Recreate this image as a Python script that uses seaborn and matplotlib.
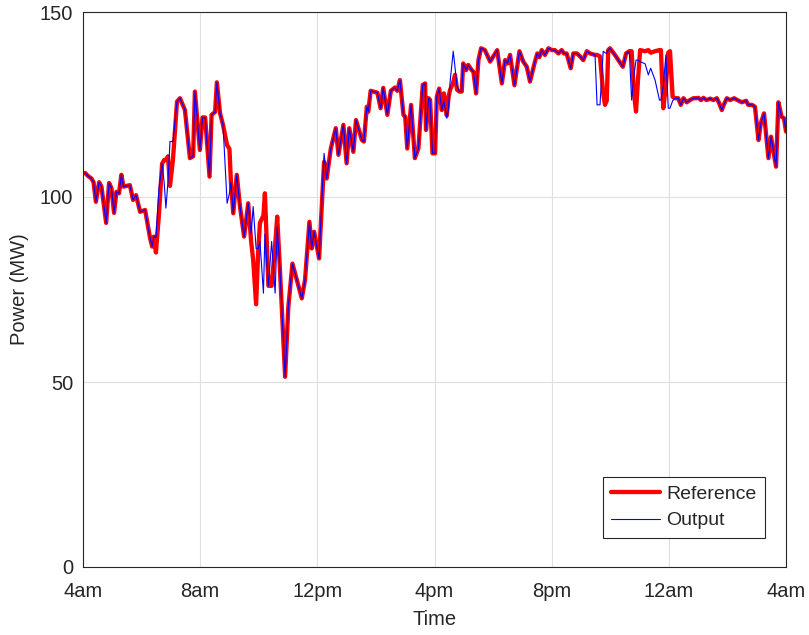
import numpy as np
import pandas as pd
import matplotlib
matplotlib.use("Agg")
import matplotlib.pyplot as plt
import seaborn as sns

# Hours since 4am
hours = [
    0.07, 0.17, 0.29, 0.36, 0.44, 0.55, 0.63, 0.79, 0.89, 0.97, 1.06, 1.14, 1.23, 1.31, 1.38,
    1.60, 1.71, 1.81, 1.95, 2.12, 2.29, 2.36, 2.42, 2.49, 2.59, 2.70, 2.77, 2.83, 2.90, 2.97,
    3.07, 3.21, 3.31, 3.48, 3.65, 3.76, 3.82, 3.99, 4.08, 4.17, 4.32, 4.39, 4.51, 4.57, 4.68,
    4.78, 4.92, 5.00, 5.05, 5.13, 5.25, 5.36, 5.50, 5.64, 5.74, 5.81, 5.91, 5.98, 6.04, 6.16,
    6.21, 6.33, 6.44, 6.56, 6.63, 6.73, 6.90, 7.01, 7.15, 7.30, 7.47, 7.58, 7.73, 7.81, 7.89,
    8.06, 8.23, 8.32, 8.46, 8.53, 8.63, 8.72, 8.89, 9.00, 9.09, 9.23, 9.32, 9.52, 9.59, 9.69,
    9.74, 9.82, 10.05, 10.16, 10.25, 10.39, 10.51, 10.65, 10.73, 10.82, 10.94, 11.00, 11.07, 11.20, 11.33,
    11.45, 11.60, 11.68, 11.71, 11.80, 11.85, 11.93, 12.02, 12.08, 12.16, 12.25, 12.32, 12.42, 12.48, 12.53,
    12.64, 12.70, 12.77, 12.85, 12.93, 12.98, 13.08, 13.15, 13.27, 13.33, 13.42, 13.50, 13.59, 13.72, 13.90,
    14.14, 14.30, 14.41, 14.49, 14.58, 14.73, 14.90, 15.03, 15.15, 15.26, 15.43, 15.51, 15.58, 15.66, 15.77,
    15.89, 16.01, 16.11, 16.23, 16.34, 16.42, 16.51, 16.65, 16.74, 16.86, 16.97, 17.08, 17.20, 17.31, 17.48,
    17.55, 17.65, 17.76, 17.82, 17.88, 17.93, 17.99, 18.16, 18.28, 18.43, 18.54, 18.65, 18.73, 18.81, 18.88,
    18.95, 19.02, 19.19, 19.30, 19.38, 19.53, 19.68, 19.73, 19.81, 19.90, 19.98, 20.04, 20.13, 20.21, 20.32,
    20.41, 20.50, 20.61, 20.72, 20.84, 20.93, 21.01, 21.10, 21.18, 21.29, 21.41, 21.52, 21.64, 21.71, 21.81,
    21.88, 21.98, 22.09, 22.23, 22.34, 22.49, 22.64, 22.71, 22.84, 22.94, 23.06, 23.14, 23.25, 23.40, 23.49,
    23.66, 23.74, 23.85, 23.93, 24.00,
]

reference = [
    106.5, 105.7, 105.0, 104.0, 98.7, 104.0, 102.8, 93.0, 103.8, 102.4, 95.7, 101.4, 101.0, 106.0, 102.8,
    103.2, 99.2, 100.5, 96.0, 96.5, 88.9, 86.6, 89.3, 85.0, 95.0, 109.0, 110.0, 110.0, 111.0, 103.0,
    110.0, 125.8, 126.7, 123.5, 110.5, 111.0, 128.5, 112.7, 121.5, 121.5, 105.5, 122.2, 123.0, 131.0, 122.6,
    119.5, 114.0, 113.0, 104.0, 95.6, 106.0, 97.4, 89.3, 98.3, 88.0, 83.0, 71.0, 85.0, 93.0, 95.0,
    101.0, 76.0, 76.0, 87.0, 94.7, 79.4, 51.4, 70.3, 82.0, 77.6, 72.6, 77.6, 93.3, 86.1, 90.6,
    83.4, 109.5, 105.0, 113.1, 115.4, 118.6, 111.4, 119.5, 109.1, 118.6, 112.2, 120.8, 115.4, 115.0, 124.4,
    123.1, 128.7, 128.2, 124.0, 129.5, 122.2, 128.7, 129.6, 128.7, 131.6, 122.2, 121.7, 113.1, 124.9, 110.5,
    113.1, 130.3, 130.7, 118.1, 126.7, 126.2, 111.8, 111.8, 127.1, 129.3, 123.5, 128.0, 122.0, 127.0, 128.9,
    131.0, 133.0, 129.0, 128.5, 128.5, 136.1, 134.3, 135.7, 134.3, 133.8, 128.0, 137.0, 140.2, 139.7, 136.6,
    139.7, 130.7, 137.0, 136.1, 138.4, 130.2, 139.4, 136.6, 135.2, 131.2, 136.6, 138.8, 137.8, 139.7, 138.4,
    140.2, 139.7, 139.7, 138.8, 139.7, 138.8, 138.8, 134.8, 138.8, 138.8, 138.0, 137.0, 139.4, 138.8, 138.4,
    138.4, 138.0, 128.0, 124.9, 126.0, 139.7, 140.2, 138.4, 137.0, 135.2, 138.8, 139.4, 139.4, 128.0, 123.1,
    132.0, 139.7, 139.4, 139.7, 139.0, 139.4, 139.7, 139.7, 124.0, 130.0, 139.0, 139.4, 127.1, 126.7, 126.7,
    124.9, 126.7, 125.6, 126.2, 126.7, 126.7, 126.8, 126.2, 126.8, 126.2, 126.6, 126.2, 126.7, 125.5, 123.5,
    125.0, 126.7, 126.2, 126.7, 126.2, 125.6, 126.0, 124.9, 124.9, 124.4, 115.4, 119.9, 122.6, 110.5, 116.3,
    108.2, 125.6, 121.7, 121.3, 117.7,
]

output = [
    106.5, 105.7, 105.0, 104.0, 98.7, 104.0, 102.8, 93.0, 103.8, 102.4, 95.7, 101.4, 101.0, 106.0, 102.8,
    103.2, 99.2, 100.5, 96.0, 96.5, 88.9, 86.6, 89.3, 89.0, 102.0, 109.0, 104.0, 97.0, 104.0, 115.0,
    115.0, 125.8, 126.7, 123.5, 110.5, 111.0, 128.5, 112.7, 121.5, 121.5, 105.5, 122.2, 123.0, 131.0, 122.6,
    119.5, 98.3, 101.0, 104.0, 95.6, 106.0, 97.4, 89.3, 98.3, 90.0, 97.4, 86.0, 86.0, 88.0, 74.0,
    90.0, 76.0, 88.0, 74.0, 92.0, 79.4, 51.4, 70.3, 82.0, 77.6, 72.6, 77.6, 93.3, 86.1, 90.6,
    83.4, 111.8, 105.0, 113.1, 115.4, 118.6, 111.4, 119.5, 109.1, 118.6, 112.2, 120.8, 115.4, 115.0, 124.4,
    123.1, 128.7, 128.2, 124.0, 129.5, 122.2, 128.7, 129.6, 128.7, 131.6, 122.2, 121.7, 113.1, 124.9, 110.5,
    113.1, 130.3, 130.7, 118.1, 126.7, 126.2, 111.8, 111.8, 127.1, 129.3, 123.5, 126.0, 121.3, 124.0, 131.0,
    139.4, 135.0, 130.0, 128.5, 128.5, 136.1, 134.3, 135.7, 134.3, 133.8, 128.0, 137.0, 140.2, 139.7, 136.6,
    139.7, 130.7, 137.0, 136.1, 138.4, 130.2, 139.4, 136.6, 135.2, 131.2, 136.6, 138.8, 137.8, 139.7, 138.4,
    140.2, 139.7, 139.7, 138.8, 139.7, 138.8, 138.8, 134.8, 138.8, 138.8, 138.0, 137.0, 139.4, 138.8, 138.4,
    124.9, 124.9, 139.4, 139.0, 138.8, 139.7, 140.2, 138.4, 137.0, 135.2, 138.8, 139.4, 126.2, 133.0, 137.0,
    137.0, 136.6, 136.0, 133.0, 134.8, 131.6, 126.2, 126.2, 130.0, 138.4, 124.0, 124.0, 126.0, 126.7, 126.7,
    124.9, 126.7, 125.6, 126.2, 126.7, 126.7, 126.8, 126.2, 126.8, 126.2, 126.6, 126.2, 126.7, 125.5, 123.5,
    125.0, 126.7, 126.2, 126.7, 126.2, 125.6, 126.0, 124.9, 124.9, 124.4, 115.4, 119.9, 122.6, 110.5, 116.3,
    108.2, 125.6, 121.7, 121.3, 117.7,
]

x_ticks = [0, 4, 8, 12, 16, 20, 24]
x_tick_labels = ["4am", "8am", "12pm", "4pm", "8pm", "12am", "4am"]
y_ticks = [0, 50, 100, 150]

df = pd.DataFrame({"Time": hours, "Reference": reference, "Output": output})

sns.set_theme(style="whitegrid")
plt.rcParams["font.family"] = ["Liberation Sans", "DejaVu Sans"]

fig = plt.figure(figsize=(8.09, 6.35), dpi=100)
ax = fig.add_axes([83 / 809, 1 - 567 / 635, 703 / 809, 555 / 635])

sns.lineplot(data=df, x="Time", y="Reference", ax=ax, color="#ff0000",
             linewidth=3.1, label="Reference", estimator=None, sort=False)
sns.lineplot(data=df, x="Time", y="Output", ax=ax, color="#0000ff",
             linewidth=0.8, label="Output", estimator=None, sort=False)

ax.set_xlim(0, 24)
ax.set_ylim(0, 150)
ax.set_xticks(x_ticks)
ax.set_xticklabels(x_tick_labels)
ax.set_yticks(y_ticks)
ax.set_xlabel("Time", fontsize=14.5, color="#262626", labelpad=6)
ax.set_ylabel("Power (MW)", fontsize=14.5, color="#262626", labelpad=8)

ax.set_facecolor("white")
ax.grid(True, color="#dfdfdf", linewidth=0.8)
for s in ax.spines.values():
    s.set_visible(True)
    s.set_color("#262626")
    s.set_linewidth(0.8)
ax.tick_params(axis="both", direction="in", length=5, width=0.8, color="#262626",
               labelsize=14.5, labelcolor="#262626")
ax.tick_params(axis="x", pad=11)
ax.tick_params(axis="y", pad=7)

leg = ax.legend(loc="lower right", bbox_to_anchor=(0.970, 0.052), borderaxespad=0,
                fontsize=14, frameon=True, fancybox=False, handlelength=2.5,
                handletextpad=0.3, labelspacing=0.45, borderpad=0.45)
leg.get_frame().set_edgecolor("#262626")
leg.get_frame().set_linewidth(0.8)
leg.get_frame().set_alpha(1)

fig.savefig("out.png", dpi=100)
